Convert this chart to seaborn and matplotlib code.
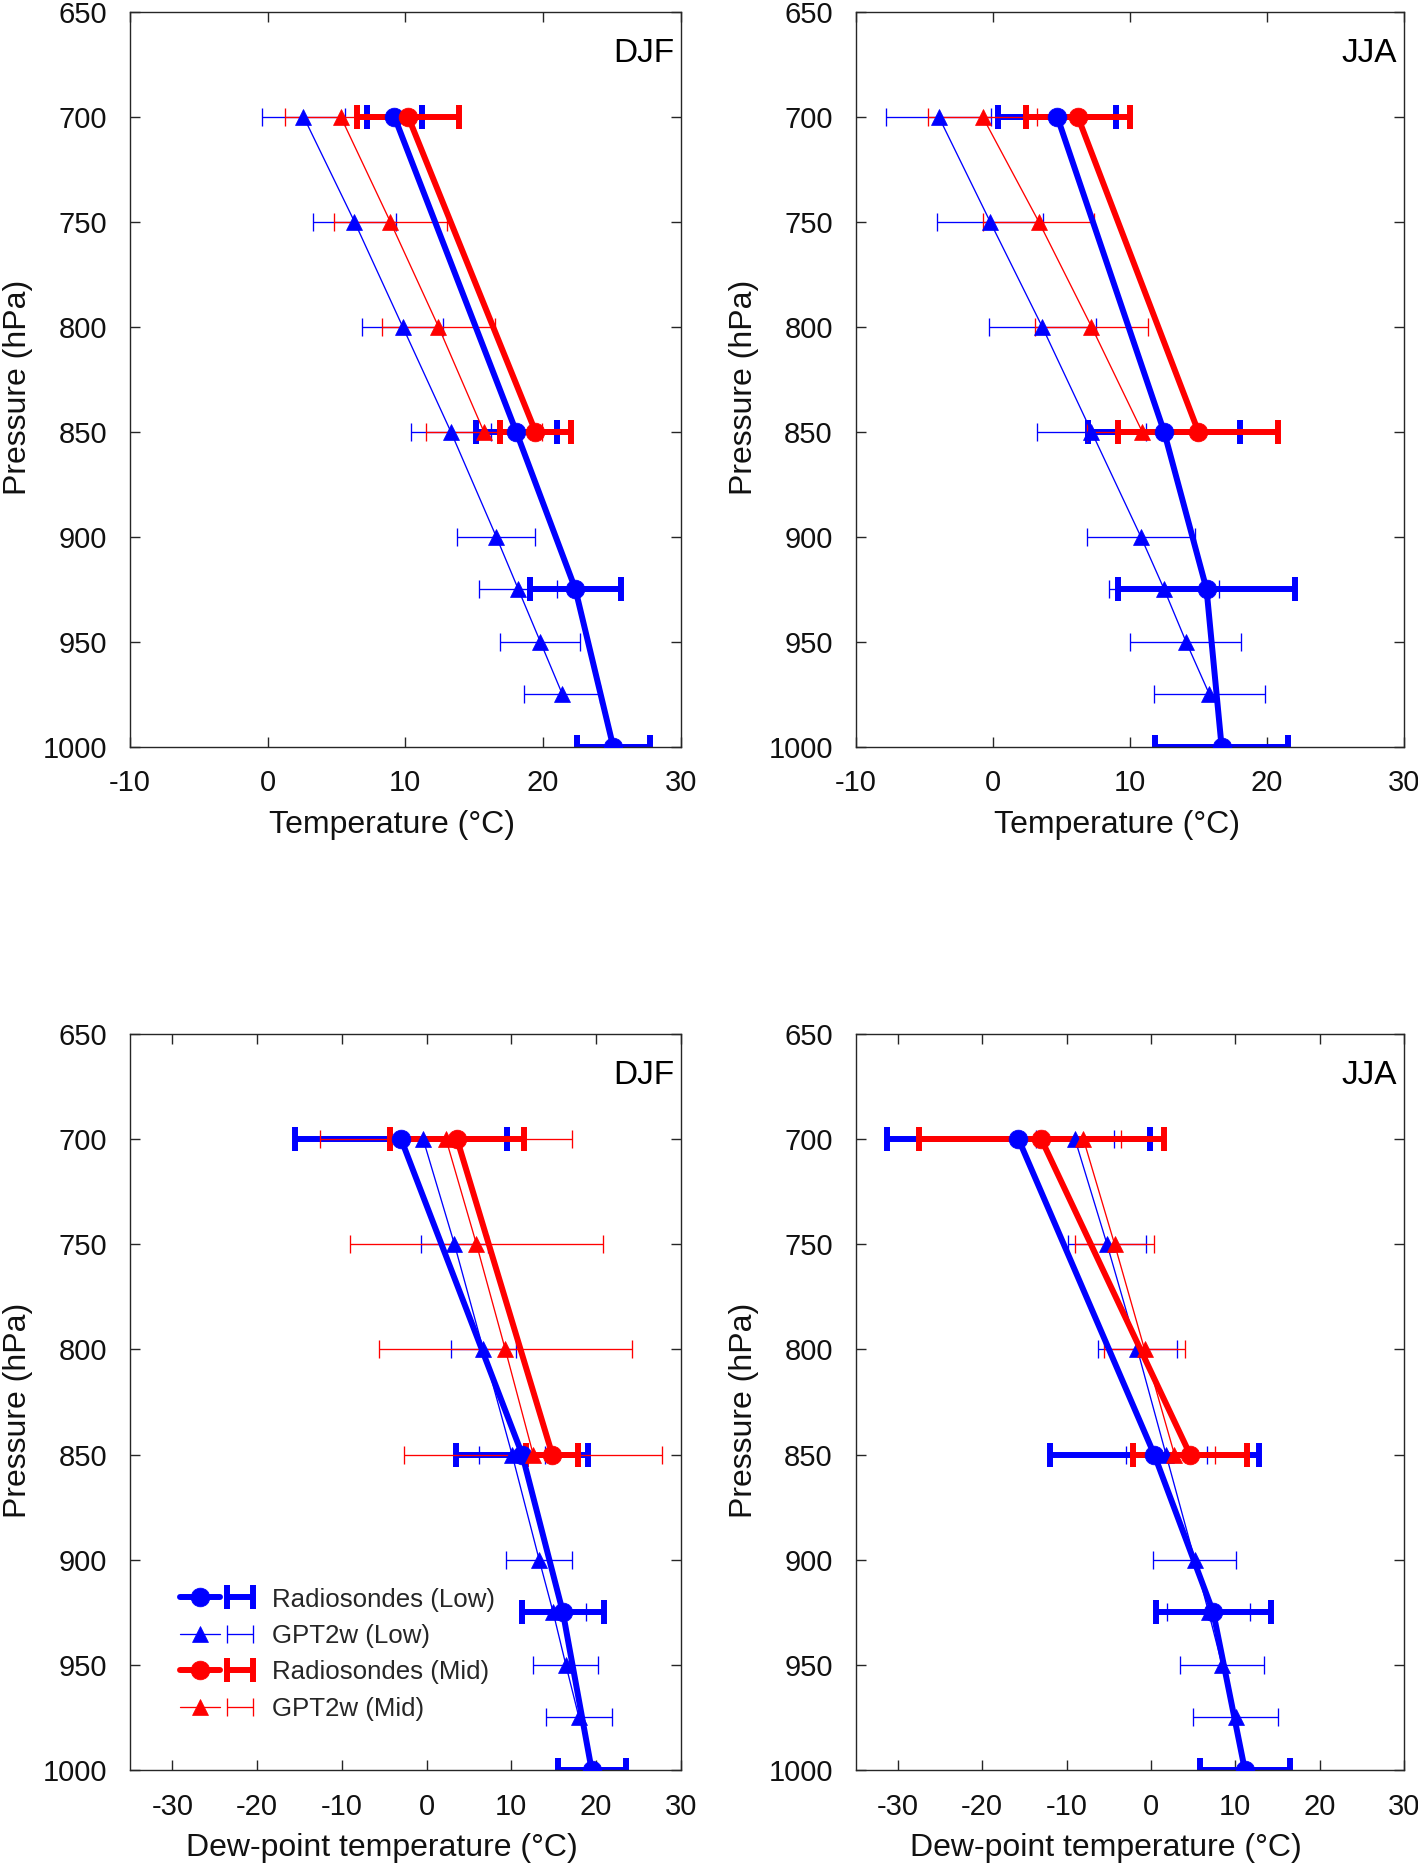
import numpy as np
import pandas as pd
import seaborn as sns
import matplotlib.pyplot as plt
from matplotlib.legend_handler import HandlerTuple

# pressure levels of each series
lev_rs_low = [700, 850, 925, 1000]
lev_rs_mid = [700, 850]
lev_gpt_low = [700, 750, 800, 850, 900, 925, 950, 975]
lev_gpt_mid = [700, 750, 800, 850]

# temperature, DJF
t_djf_rs_low = [9.2, 18.05, 22.35, 25.1]
t_djf_rs_low_sd = [2.0, 2.95, 3.3, 2.65]
t_djf_rs_mid = [10.2, 19.45]
t_djf_rs_mid_sd = [3.7, 2.55]
t_djf_gpt_low = [2.6, 6.3, 9.8, 13.3, 16.6, 18.2, 19.8, 21.4]
t_djf_gpt_low_sd = [3.0, 3.0, 2.95, 2.9, 2.85, 2.85, 2.9, 2.75]
t_djf_gpt_mid = [5.3, 8.9, 12.4, 15.7]
t_djf_gpt_mid_sd = [4.05, 4.1, 4.1, 4.2]

# temperature, JJA
t_jja_rs_low = [4.7, 12.5, 15.6, 16.7]
t_jja_rs_low_sd = [4.3, 5.55, 6.45, 4.85]
t_jja_rs_mid = [6.2, 15.0]
t_jja_rs_mid_sd = [3.8, 5.85]
t_jja_gpt_low = [-3.95, -0.2, 3.6, 7.2, 10.8, 12.5, 14.1, 15.8]
t_jja_gpt_low_sd = [3.85, 3.9, 3.9, 4.0, 3.95, 4.0, 4.05, 4.05]
t_jja_gpt_mid = [-0.75, 3.35, 7.2, 10.9]
t_jja_gpt_mid_sd = [4.0, 4.05, 4.1, 4.0]

# dew-point temperature, DJF
td_djf_rs_low = [-3.0, 11.3, 16.1, 19.5]
td_djf_rs_low_sd = [12.5, 7.8, 4.8, 4.0]
td_djf_rs_mid = [3.6, 14.85]
td_djf_rs_mid_sd = [7.9, 3.05]
td_djf_gpt_low = [-0.4, 3.3, 6.7, 10.1, 13.3, 14.95, 16.45, 18.0]
td_djf_gpt_low_sd = [3.9, 3.9, 3.85, 3.9, 3.9, 3.85, 3.85, 3.9]
td_djf_gpt_mid = [2.3, 5.9, 9.3, 12.6]
td_djf_gpt_mid_sd = [14.9, 14.9, 14.9, 15.2]

# dew-point temperature, JJA
td_jja_rs_low = [-15.7, 0.4, 7.4, 11.15]
td_jja_rs_low_sd = [15.65, 12.4, 6.8, 5.35]
td_jja_rs_mid = [-13.0, 4.65]
td_jja_rs_mid_sd = [14.5, 6.75]
td_jja_gpt_low = [-9.0, -5.2, -1.6, 1.8, 5.2, 6.85, 8.45, 10.05]
td_jja_gpt_low_sd = [4.6, 4.6, 4.7, 4.8, 4.9, 4.95, 4.95, 5.05]
td_jja_gpt_mid = [-8.0, -4.3, -0.75, 2.8]
td_jja_gpt_mid_sd = [4.5, 4.7, 4.75, 4.8]

series_names = ["Radiosondes (Low)", "GPT2w (Low)", "Radiosondes (Mid)", "GPT2w (Mid)"]

sns.set_theme(style="ticks")
plt.rcParams['font.family'] = ['Liberation Sans', 'DejaVu Sans']
plt.rcParams['axes.unicode_minus'] = False
plt.rcParams['axes.edgecolor'] = '#262626'
plt.rcParams['xtick.color'] = '#262626'
plt.rcParams['ytick.color'] = '#262626'
plt.rcParams['xtick.labelcolor'] = '#111111'
plt.rcParams['ytick.labelcolor'] = '#111111'

BLUE = (0, 0, 1)
RED = (1, 0, 0)
styles = [
    dict(color=BLUE, lw=4.3, marker='o', ms=13.5, cap=8.5, capthick=4.3),
    dict(color=BLUE, lw=0.95, marker='^', ms=11, cap=6.5, capthick=0.95),
    dict(color=RED, lw=4.3, marker='o', ms=13.5, cap=8.5, capthick=4.3),
    dict(color=RED, lw=0.95, marker='^', ms=11, cap=6.5, capthick=0.95),
]


def draw_panel(ax, data, xlim, xticks, xlabel, season, xlab_x=0.5, legend=False):
    levels = [lev_rs_low, lev_gpt_low, lev_rs_mid, lev_gpt_mid]
    handles = []
    for (vals, sd), lev, st, name in zip(data, levels, styles, series_names):
        df = pd.DataFrame({"value": vals, "sd": sd, "pressure": lev})
        n0 = len(ax.lines)
        sns.lineplot(data=df, x="value", y="pressure", orient="y", sort=False,
                     estimator=None, ax=ax, color=st["color"], linewidth=st["lw"],
                     marker=st["marker"], markersize=st["ms"],
                     markeredgecolor=st["color"], markeredgewidth=0.5, zorder=3)
        line = ax.lines[n0]
        eb = ax.errorbar(df["value"], df["pressure"], xerr=df["sd"], fmt='none',
                         ecolor=st["color"], elinewidth=st["lw"], capsize=st["cap"],
                         capthick=st["capthick"], zorder=2.5)
        handles.append((line, eb))

    ax.set_xlim(*xlim)
    ax.set_ylim(1000, 650)
    ax.set_xticks(xticks)
    ax.set_yticks(np.arange(650, 1001, 50))
    ax.set_xlabel(xlabel, fontsize=23, labelpad=9, color='#111111')
    ax.set_ylabel("Pressure (hPa)", fontsize=23, labelpad=7, color='#111111')
    ax.xaxis.label.set_x(xlab_x)
    ax.yaxis.label.set_y(0.489)
    ax.tick_params(direction='in', length=7, width=1, top=True, right=True,
                   labelsize=21, pad=16.5)
    for sp in ax.spines.values():
        sp.set_linewidth(1.0)
    ax.text(0.988, 0.943, season, transform=ax.transAxes, ha='right', va='center',
            fontsize=24, color='black')
    if legend:
        ax.legend(handles, series_names, handler_map={tuple: HandlerTuple(ndivide=None)},
                  loc='lower left', bbox_to_anchor=(0.09, 0.067), frameon=False,
                  fontsize=18.6, handlelength=3.1, handletextpad=0.46, labelspacing=0.48,
                  borderpad=0, borderaxespad=0)


fig = plt.figure(figsize=(14.18, 18.64), dpi=100)
ax1 = fig.add_axes([0.0917, 0.5995, 0.3883, 0.3943])
ax2 = fig.add_axes([0.6035, 0.5995, 0.3865, 0.3943])
ax3 = fig.add_axes([0.0917, 0.0504, 0.3883, 0.3949])
ax4 = fig.add_axes([0.6035, 0.0504, 0.3865, 0.3949])

draw_panel(ax1, [(t_djf_rs_low, t_djf_rs_low_sd), (t_djf_gpt_low, t_djf_gpt_low_sd),
                 (t_djf_rs_mid, t_djf_rs_mid_sd), (t_djf_gpt_mid, t_djf_gpt_mid_sd)],
           (-10, 30), np.arange(-10, 31, 10), "Temperature (°C)", "DJF", xlab_x=0.476)
draw_panel(ax2, [(t_jja_rs_low, t_jja_rs_low_sd), (t_jja_gpt_low, t_jja_gpt_low_sd),
                 (t_jja_rs_mid, t_jja_rs_mid_sd), (t_jja_gpt_mid, t_jja_gpt_mid_sd)],
           (-10, 30), np.arange(-10, 31, 10), "Temperature (°C)", "JJA", xlab_x=0.476)
draw_panel(ax3, [(td_djf_rs_low, td_djf_rs_low_sd), (td_djf_gpt_low, td_djf_gpt_low_sd),
                 (td_djf_rs_mid, td_djf_rs_mid_sd), (td_djf_gpt_mid, td_djf_gpt_mid_sd)],
           (-35, 30), np.arange(-30, 31, 10), "Dew-point temperature (°C)", "DJF",
           xlab_x=0.457, legend=True)
draw_panel(ax4, [(td_jja_rs_low, td_jja_rs_low_sd), (td_jja_gpt_low, td_jja_gpt_low_sd),
                 (td_jja_rs_mid, td_jja_rs_mid_sd), (td_jja_gpt_mid, td_jja_gpt_mid_sd)],
           (-35, 30), np.arange(-30, 31, 10), "Dew-point temperature (°C)", "JJA",
           xlab_x=0.457)

fig.savefig("out.png", dpi=100)
